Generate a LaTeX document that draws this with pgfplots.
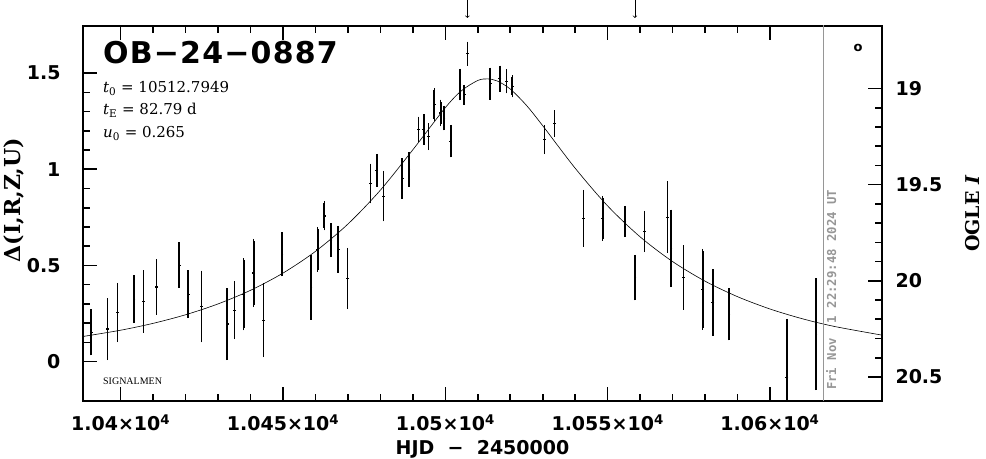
\documentclass[border=0pt]{standalone}
\usepackage{fontspec}
\setmainfont{DejaVu Serif}
\newfontfamily\ticksf{DejaVu Sans}
\newfontfamily\titlesf{DejaVu Sans}[LetterSpace=4]
\newfontfamily\monof{DejaVu Sans Mono}
\newfontfamily\libserif{Liberation Serif}
\usepackage{pgfplots}
\usepackage{pgfplotstable}
\pgfplotsset{compat=1.18}
\definecolor{stampgray}{RGB}{150,150,150}

\pgfplotstableread{
x y e
10390.9 0.152 0.110
10395.9 0.169 0.151
10399.0 0.255 0.144
10404.1 0.324 0.114
10407.0 0.312 0.153
10411.0 0.388 0.133
10418.0 0.501 0.108
10420.8 0.350 0.114
10424.9 0.286 0.176
10432.8 0.195 0.177
10435.1 0.267 0.140
10437.9 0.350 0.178
10441.0 0.461 0.167
10444.0 0.215 0.182
10449.7 0.558 0.104
10458.6 0.385 0.157
10460.7 0.584 0.106
10462.7 0.757 0.065
10464.8 0.632 0.078
10467.0 0.584 0.111
10469.9 0.432 0.149
10477.0 0.926 0.093
10478.9 0.995 0.075
10480.9 0.860 0.121
10486.7 0.951 0.095
10488.8 0.999 0.080
10491.7 1.207 0.056
10493.4 1.207 0.069
10494.8 1.169 0.059
10496.6 1.336 0.076
10498.6 1.293 0.059
10499.6 1.267 0.054
10501.7 1.146 0.074
10504.5 1.440 0.072
10505.8 1.388 0.041
10506.8 1.601 0.052
10513.8 1.445 0.073
10516.8 1.471 0.058
10518.9 1.457 0.052
10520.6 1.431 0.047
10530.5 1.155 0.066
10533.6 1.238 0.059
10542.5 0.745 0.137
10548.5 0.745 0.106
10555.3 0.728 0.071
10558.4 0.437 0.108
10561.3 0.676 0.097
10568.4 0.751 0.175
10569.5 0.589 0.191
10573.3 0.437 0.157
10579.3 0.376 0.199
10582.4 0.307 0.163
10587.4 0.246 0.125
10605.2 -0.082 0.294
10614.2 0.143 0.281
}\lcdata

\pgfplotstableread{
x y
10388 0.1294
10400 0.1631
10410 0.1988
10420 0.2435
10430 0.2998
10440 0.3706
10450 0.4601
10460 0.5730
10470 0.7151
10480 0.8915
10490 1.1015
10500 1.3203
10505 1.4088
10510 1.4616
10513 1.4699
10516 1.4590
10520 1.4172
10525 1.3320
10530 1.2264
10540 1.0054
10550 0.8092
10560 0.6485
10570 0.5200
10580 0.4181
10590 0.3374
10600 0.2734
10610 0.2225
10620 0.1821
10635 0.1360
}\model

\pgfplotsset{
  every tick/.style={black, line width=1.6pt},
  every major tick/.style={black, line width=1.6pt},
  every minor tick/.style={black, line width=1.6pt},
}

\begin{document}
\begin{tikzpicture}
\begin{axis}[
  width=799pt, height=375pt, scale only axis,
  xmin=10388.4, xmax=10634.5, ymin=-0.205, ymax=1.745,
  scaled x ticks=false, scaled y ticks=false,
  xtick={10400,10450,10500,10550,10600},
  xticklabels={1.04×10\textsuperscript{4},1.045×10\textsuperscript{4},1.05×10\textsuperscript{4},1.055×10\textsuperscript{4},1.06×10\textsuperscript{4}},
  minor x tick num=4,
  ytick={0,0.5,1,1.5}, yticklabels={0,0.5,1,1.5},
  minor y tick num=4,
  xtick pos=both, ytick pos=left,
  tick align=inside,
  major tick length=14pt, minor tick length=7pt,
  axis line style={line width=1.8pt},
  ticklabel style={font=\ticksf\bfseries\fontsize{19}{22}\selectfont},
  xticklabel style={yshift=-10pt},
  yticklabel style={xshift=-19pt},
  xlabel={HJD~~−~~2450000},
  every axis x label/.style={at={(axis description cs:0.50,-0.143)}, anchor=base, font=\ticksf\bfseries\fontsize{19}{22}\selectfont},
  ylabel={Δ(I,R,Z,U)},
  every axis y label/.style={at={(axis description cs:-0.0776,0.536)}, rotate=90, anchor=base, font=\bfseries\fontsize{22}{26}\selectfont},
]
\coordinate (sw) at (rel axis cs:0,0);
\coordinate (ne) at (rel axis cs:1,1);
\coordinate (a1) at (axis cs:10506.8,1.745);
\coordinate (a2) at (axis cs:10558.4,1.745);

\addplot[black, line width=0.6pt, smooth, no marks] table[x=x,y=y] {\model};

\addplot[black, only marks, mark=-, mark size=1.4pt, mark options={line width=1.2pt},
  error bars/.cd, y dir=both, y explicit,
  error bar style={line width=1.6pt},
  error mark options={line width=1.4pt, mark size=2pt}]
  table[x=x,y=y,y error=e] {\lcdata};

\addplot[stampgray, line width=0.8pt] coordinates {(10616.4,-0.3) (10616.4,1.9)};

\node[anchor=base west, inner sep=0, font=\titlesf\bfseries\fontsize{30}{34}\selectfont] at (rel axis cs:0.025,0.8987) {OB−24−0887};
\node[anchor=base west, inner sep=0, font=\fontsize{15}{17}\selectfont] at (rel axis cs:0.025,0.8221) {\textit{t}\textsubscript{0} = 10512.7949};
\node[anchor=base west, inner sep=0, font=\fontsize{15}{17}\selectfont] at (rel axis cs:0.025,0.7645) {\textit{t}\textsubscript{E} = 82.79 d};
\node[anchor=base west, inner sep=0, font=\fontsize{15}{17}\selectfont] at (rel axis cs:0.025,0.7032) {\textit{u}\textsubscript{0} = 0.265};
\node[anchor=base west, inner sep=0, font=\libserif\fontsize{10}{12}\selectfont] at (rel axis cs:0.025,0.0453) {SIGNALMEN};
\node[inner sep=0, font=\ticksf\bfseries\fontsize{13}{14}\selectfont] at (rel axis cs:0.970,0.941) {o};
\node[rotate=90, anchor=west, inner sep=0, text=stampgray, font=\monof\bfseries\fontsize{12.3}{14}\selectfont] at (axis cs:10618.9,-0.148) {Fri Nov~~1 22:29:48 2024 UT};
\end{axis}

\begin{axis}[
  width=799pt, height=375pt, scale only axis,
  xmin=10388.4, xmax=10634.5, ymin=18.675, ymax=20.625,
  y dir=reverse,
  hide x axis,
  ytick={19,19.5,20,20.5}, yticklabels={19,19.5,20,20.5},
  minor y tick num=4,
  ytick pos=right, yticklabel pos=right,
  tick align=inside,
  major tick length=14pt, minor tick length=7pt,
  axis line style={line width=1.8pt},
  ticklabel style={font=\ticksf\bfseries\fontsize{19}{22}\selectfont},
  yticklabel style={xshift=10pt},
  ylabel={OGLE \textit{I}},
  every axis y label/.style={at={(axis description cs:1.1226,0.5)}, rotate=90, anchor=base, font=\bfseries\fontsize{19}{23}\selectfont},
]
\end{axis}

\draw[line width=0.7pt,->] ([yshift=26pt]a1) -- ([yshift=8pt]a1);
\draw[line width=0.7pt,->] ([yshift=26pt]a2) -- ([yshift=8pt]a2);

\pgfresetboundingbox
\path ([shift={(-83pt,-58pt)}]sw) rectangle ([shift={(104pt,26pt)}]ne);
\end{tikzpicture}
\end{document}
